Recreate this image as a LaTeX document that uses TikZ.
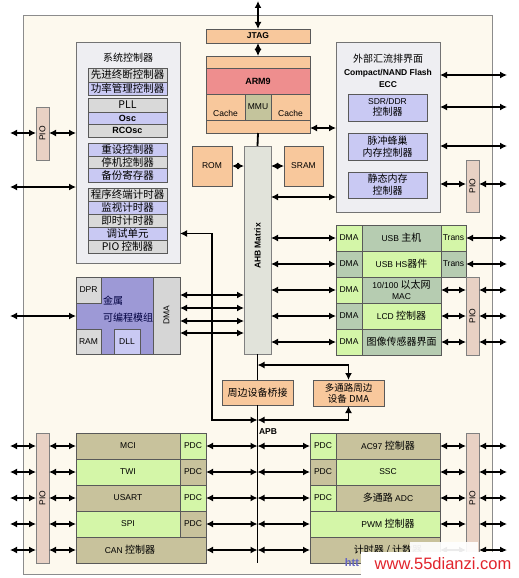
\documentclass[tikz,border=0pt]{standalone}
\usepackage{fontspec}
\setmainfont{Liberation Sans}
\newfontfamily\cjk{Noto Sans CJK SC}
\usetikzlibrary{arrows.meta,calc}
\definecolor{cream}{HTML}{FDF9EE}
\definecolor{peach}{HTML}{F8C89C}
\definecolor{armred}{HTML}{EE8E8E}
\definecolor{mmuc}{HTML}{C4C49C}
\definecolor{sysbg}{HTML}{EEEEF2}
\definecolor{rowgray}{HTML}{D9D9D9}
\definecolor{lav}{HTML}{C9C9F3}
\definecolor{purp}{HTML}{9D99D6}
\definecolor{ahbc}{HTML}{E1E3DA}
\definecolor{pioc}{HTML}{E8D1C4}
\definecolor{khaki}{HTML}{C8C29C}
\definecolor{lgreen}{HTML}{D4F6A8}
\definecolor{ggreen}{HTML}{B6CCB1}
\definecolor{dmagray}{HTML}{D6D6D6}
\definecolor{wmred}{HTML}{E2242C}
\newcommand\zhc[1]{{\cjk\fontsize{10}{11}\selectfont #1}}
\newcommand\blk[7]{\node[bx,#6,minimum width={(#4-#2)*1pt},minimum height={(#5-#3)*1pt}] (#1) at ({(#2+#4)/2},{(#3+#5)/2}) {#7};}
\begin{document}
\begin{tikzpicture}[x=1pt,y=-1pt,
  bx/.style={draw=black!65,line width=0.8pt,inner sep=0pt,outer sep=0pt,align=center,font=\fontsize{8.5}{11}\selectfont},
  zh/.style={font=\cjk\fontsize{10}{12}\selectfont},
  zhb/.style={font=\cjk\fontsize{10.5}{12}\selectfont},
  lbl/.style={inner sep=0pt,font=\fontsize{8.5}{10}\selectfont},
  arr/.style={line width=1.8pt,{Latex[length=7pt,width=7pt]}-{Latex[length=7pt,width=7pt]}},
  ln/.style={line width=1.8pt}]
\useasboundingbox (0,0) rectangle (519,578);
\fill[white] (0,0) rectangle (519,578);
\blk{chip}{23}{16}{492}{574}{fill=cream,draw=black!45,line width=1pt}{}

% ---- system controller
\blk{sys}{76}{42}{180}{263}{fill=sysbg,draw=black!55}{}
\node[lbl,zh] (systitle) at (128,58) {系统控制器};
\blk{s1}{88}{68}{167}{82}{fill=rowgray,zhb}{先进终断控制器}
\blk{s2}{88}{82}{167}{95}{fill=lav,zhb}{功率管理控制器}
\blk{s3}{88}{98}{167}{112}{fill=rowgray,zhb}{PLL}
\blk{s4}{88}{112}{167}{124}{fill=lav,font=\bfseries\fontsize{9}{10}\selectfont}{Osc}
\blk{s5}{88}{124}{167}{137}{fill=rowgray,font=\bfseries\fontsize{9}{10}\selectfont}{RCOsc}
\blk{s6}{88}{143}{167}{156}{fill=lav,zhb}{重设控制器}
\blk{s7}{88}{156}{167}{168}{fill=rowgray,zhb}{停机控制器}
\blk{s8}{88}{168}{167}{182}{fill=lav,zhb}{备份寄存器}
\blk{s9}{88}{188}{167}{201}{fill=rowgray,zhb}{程序终端计时器}
\blk{s10}{88}{201}{167}{214}{fill=lav,zhb}{监视计时器}
\blk{s11}{88}{214}{167}{227}{fill=rowgray,zhb}{即时计时器}
\blk{s12}{88}{227}{167}{240}{fill=lav,zhb}{调试单元}
\blk{s13}{88}{240}{167}{253}{fill=rowgray,zhb}{PIO 控制器}

\blk{pioTL}{36}{107}{49}{160}{fill=pioc,draw=black!50}{}
\node[lbl,rotate=90] at (pioTL) {PIO};

% ---- metal programmable block
\blk{mpb}{76}{277}{153}{354}{fill=purp}{}
\blk{dma}{153}{277}{180}{354}{fill=dmagray}{}
\node[lbl,rotate=90] at (dma) {DMA};
\blk{dpr}{76}{277}{101}{303}{fill=rowgray}{DPR}
\blk{ram}{76}{329}{101}{354}{fill=rowgray}{RAM}
\blk{dll}{114}{329}{140}{354}{fill=lav}{DLL}
\node[lbl,zh,text=black!75!blue] at (113,301) {金属};
\node[lbl,zh,text=black!75!blue] at (128,318) {可编程模组};

% ---- CPU
\blk{jtag}{206}{29}{310}{43}{fill=peach,font=\bfseries\fontsize{8.5}{10}\selectfont}{JTAG}
\blk{arm}{206}{56}{310}{133}{fill=peach}{}
\blk{arm9}{206}{68}{310}{94}{fill=armred,font=\bfseries\fontsize{9}{10}\selectfont}{ARM9}
\blk{cache1}{206}{94}{245}{120}{fill=peach}{}
\blk{mmu}{245}{94}{271}{120}{fill=mmuc}{MMU}
\blk{cache2}{271}{94}{310}{120}{fill=peach}{}
\node[lbl] at (225.5,113) {Cache};
\node[lbl] at (290.5,113) {Cache};
\blk{rom}{192}{146}{232}{186}{fill=peach}{ROM}
\blk{sram}{284}{146}{323}{186}{fill=peach}{SRAM}
\blk{ahb}{244}{146}{271}{354}{fill=ahbc,draw=black!50}{}
\node[lbl,rotate=90,font=\bfseries\fontsize{8.5}{10}\selectfont] at (257.5,246) {AHB Matrix};

% ---- external bus interface
\blk{ebi}{336}{42}{440}{212}{fill=sysbg,draw=black!55}{}
\node[lbl,zh] at (388,59) {外部汇流排界面};
\node[lbl,font=\bfseries\fontsize{8.5}{10}\selectfont] at (388,73) {Compact/NAND Flash};
\node[lbl,font=\bfseries\fontsize{8.5}{10}\selectfont] at (388,85) {ECC};
\blk{e1}{348}{94}{427}{121}{fill=lav}{SDR/DDR\\\zhc{控制器}}
\blk{e2}{348}{133}{427}{160}{fill=lav,zh}{脉冲蜂巢\\内存控制器}
\blk{e3}{348}{172}{427}{198}{fill=lav,zh}{静态内存\\控制器}
\blk{pioTR}{466}{160}{479}{212}{fill=pioc,draw=black!50}{}
\node[lbl,rotate=90] at (pioTR) {PIO};

% ---- middle right peripherals
\blk{d1}{336}{225}{362}{251}{fill=lgreen}{DMA}
\blk{m1}{362}{225}{441}{251}{fill=ggreen}{USB \zhc{主机}}
\blk{t1}{441}{225}{466}{251}{fill=lgreen}{Trans}
\blk{d2}{336}{251}{362}{277}{fill=ggreen}{DMA}
\blk{m2}{362}{251}{441}{277}{fill=lgreen}{USB HS\zhc{器件}}
\blk{t2}{441}{251}{466}{277}{fill=ggreen}{Trans}
\blk{d3}{336}{277}{362}{303}{fill=lgreen}{DMA}
\blk{m3}{362}{277}{441}{303}{fill=ggreen}{10/100 \zhc{以太网}\\MAC}
\blk{d4}{336}{303}{362}{329}{fill=ggreen}{DMA}
\blk{m4}{362}{303}{441}{329}{fill=lgreen}{LCD \zhc{控制器}}
\blk{d5}{336}{329}{362}{355}{fill=lgreen}{DMA}
\blk{m5}{362}{329}{441}{355}{fill=ggreen,zh}{图像传感器界面}
\blk{pioMR}{466}{277}{479}{355}{fill=pioc,draw=black!50}{}
\node[lbl,rotate=90] at (pioMR) {PIO};

% ---- bridge and DMA
\blk{bridge}{222}{380}{293}{405}{fill=peach,zh}{周边设备桥接}
\blk{mdma}{313}{380}{384}{406}{fill=peach,zh,font=\cjk\fontsize{9.5}{11}\selectfont}{多通路周边\\设备 DMA}
\node[lbl,font=\bfseries\fontsize{8.5}{10}\selectfont] at (268,432) {APB};

% ---- bottom left peripherals
\blk{pioBL}{36}{433}{49}{563}{fill=pioc,draw=black!50}{}
\node[lbl,rotate=90] at (pioBL) {PIO};
\blk{b1}{76}{433}{180}{459}{fill=khaki}{MCI}
\blk{p1}{180}{433}{206}{459}{fill=lgreen}{PDC}
\blk{b2}{76}{459}{180}{485}{fill=lgreen}{TWI}
\blk{p2}{180}{459}{206}{485}{fill=khaki}{PDC}
\blk{b3}{76}{485}{180}{511}{fill=khaki}{USART}
\blk{p3}{180}{485}{206}{511}{fill=lgreen}{PDC}
\blk{b4}{76}{511}{180}{537}{fill=lgreen}{SPI}
\blk{p4}{180}{511}{206}{537}{fill=khaki}{PDC}
\blk{b5}{76}{537}{206}{563}{fill=khaki}{}
\node[lbl] at (130,550) {CAN \zhc{控制器}};

% ---- bottom right peripherals
\blk{q1}{310}{433}{336}{459}{fill=lgreen}{PDC}
\blk{c1}{336}{433}{440}{459}{fill=khaki}{AC97 \zhc{控制器}}
\blk{q2}{310}{459}{336}{485}{fill=khaki}{PDC}
\blk{c2}{336}{459}{440}{485}{fill=lgreen}{SSC}
\blk{q3}{310}{485}{336}{511}{fill=lgreen}{PDC}
\blk{c3}{336}{485}{440}{511}{fill=khaki}{\zhc{多通路} ADC}
\blk{c4}{310}{511}{440}{537}{fill=lgreen}{}
\node[lbl] at (388,524) {PWM \zhc{控制器}};
\blk{c5}{310}{537}{440}{563}{fill=khaki}{}
\node[lbl] at (388,550) {\zhc{计时器 / 计数器}};
\blk{pioBR}{466}{433}{479}{563}{fill=pioc,draw=black!50}{}
\node[lbl,rotate=90] at (pioBR) {PIO};

% ---- free ends / junctions
\coordinate (T) at (258,1);
\coordinate (L1) at (10,133); \coordinate (L2) at (10,187); \coordinate (L3) at (10,316);
\coordinate (R1) at (507,75); \coordinate (R2) at (507,107); \coordinate (R3) at (507,146); \coordinate (R4) at (507,184);
\coordinate (j1) at (257.5,365); \coordinate (j2) at (257.5,420); \coordinate (dj) at (212,420);
\coordinate (apbend) at (257.5,563);

% ---- connectors
\draw[arr] (T) -- (jtag.north);
\draw[arr] (jtag.south) -- (arm.north);
\draw[ln] (arm.south) -- (ahb.north);
\draw[arr] (arm.east |- 0,128) -- (ebi.west |- 0,128);
\draw[arr] (rom.east) -- (ahb.west |- rom.east);
\draw[arr] (ahb.east |- sram.west) -- (sram.west);
\draw[arr] (ahb.east |- 0,197) -- (ebi.west |- 0,197);
\foreach \r in {R1,R2,R3} {\draw[arr] (ebi.east |- \r) -- (\r);}
\draw[arr] (ebi.east |- R4) -- (pioTR.west |- R4);
\draw[arr] (pioTR.east |- R4) -- (R4);

\draw[arr] (L1) -- (pioTL.west |- L1);
\draw[arr] (pioTL.east |- L1) -- (sys.west |- L1);
\draw[arr] (L2) -- (sys.west |- L2);
\draw[arr] (L3) -- (mpb.west |- L3);
\foreach \y in {295,308,321,333} {\draw[arr] (dma.east |- 0,\y) -- (ahb.west |- 0,\y);}
\draw[arr] (sys.east |- s12.east) -| (dj) -- (j2);

\foreach \i in {1,...,5} {\draw[arr] (ahb.east |- d\i.west) -- (d\i.west);}
\draw[arr] (t1.east) -- (t1.east -| R1);
\draw[arr] (t2.east) -- (t2.east -| R1);
\foreach \i in {3,4,5} {
  \draw[arr] (m\i.east) -- (pioMR.west |- m\i.east);
  \draw[arr] (pioMR.east |- m\i.east) -- (m\i.east -| R1);
}

\draw[ln] (ahb.south) -- (bridge.north);
\draw[ln] (bridge.south) -- (apbend);
\draw[arr] (j1) -| (mdma.north);
\draw[arr] (mdma.south) |- (j2);

\foreach \i in {1,...,5} {
  \draw[arr] (b\i.west -| L1) -- (pioBL.west |- b\i.west);
  \draw[arr] (pioBL.east |- b\i.west) -- (b\i.west);
}
\foreach \i in {1,...,4} {\draw[arr] (p\i.east) -- (p\i.east -| j2);}
\draw[arr] (b5.east) -- (b5.east -| j2);
\foreach \i in {1,2,3} {\draw[arr] (q\i.west -| j2) -- (q\i.west);}
\foreach \i in {4,5} {\draw[arr] (c\i.west -| j2) -- (c\i.west);}
\foreach \i in {1,...,5} {
  \draw[arr] (c\i.east) -- (pioBR.west |- c\i.east);
  \draw[arr] (pioBR.east |- c\i.east) -- (c\i.east -| R1);
}

% ---- watermark
\node[inner sep=0pt,font=\bfseries\fontsize{11}{12}\selectfont,text=black!40!blue!60] at (352,563) {htt};
\fill[white,opacity=0.92] (410,542) rectangle (478,552);
\fill[white] (361,552) rectangle (519,578);
\node[inner sep=0pt,font=\fontsize{16.5}{18}\selectfont,text=wmred] at (443,564) {www.55dianzi.com};
\end{tikzpicture}
\end{document}
